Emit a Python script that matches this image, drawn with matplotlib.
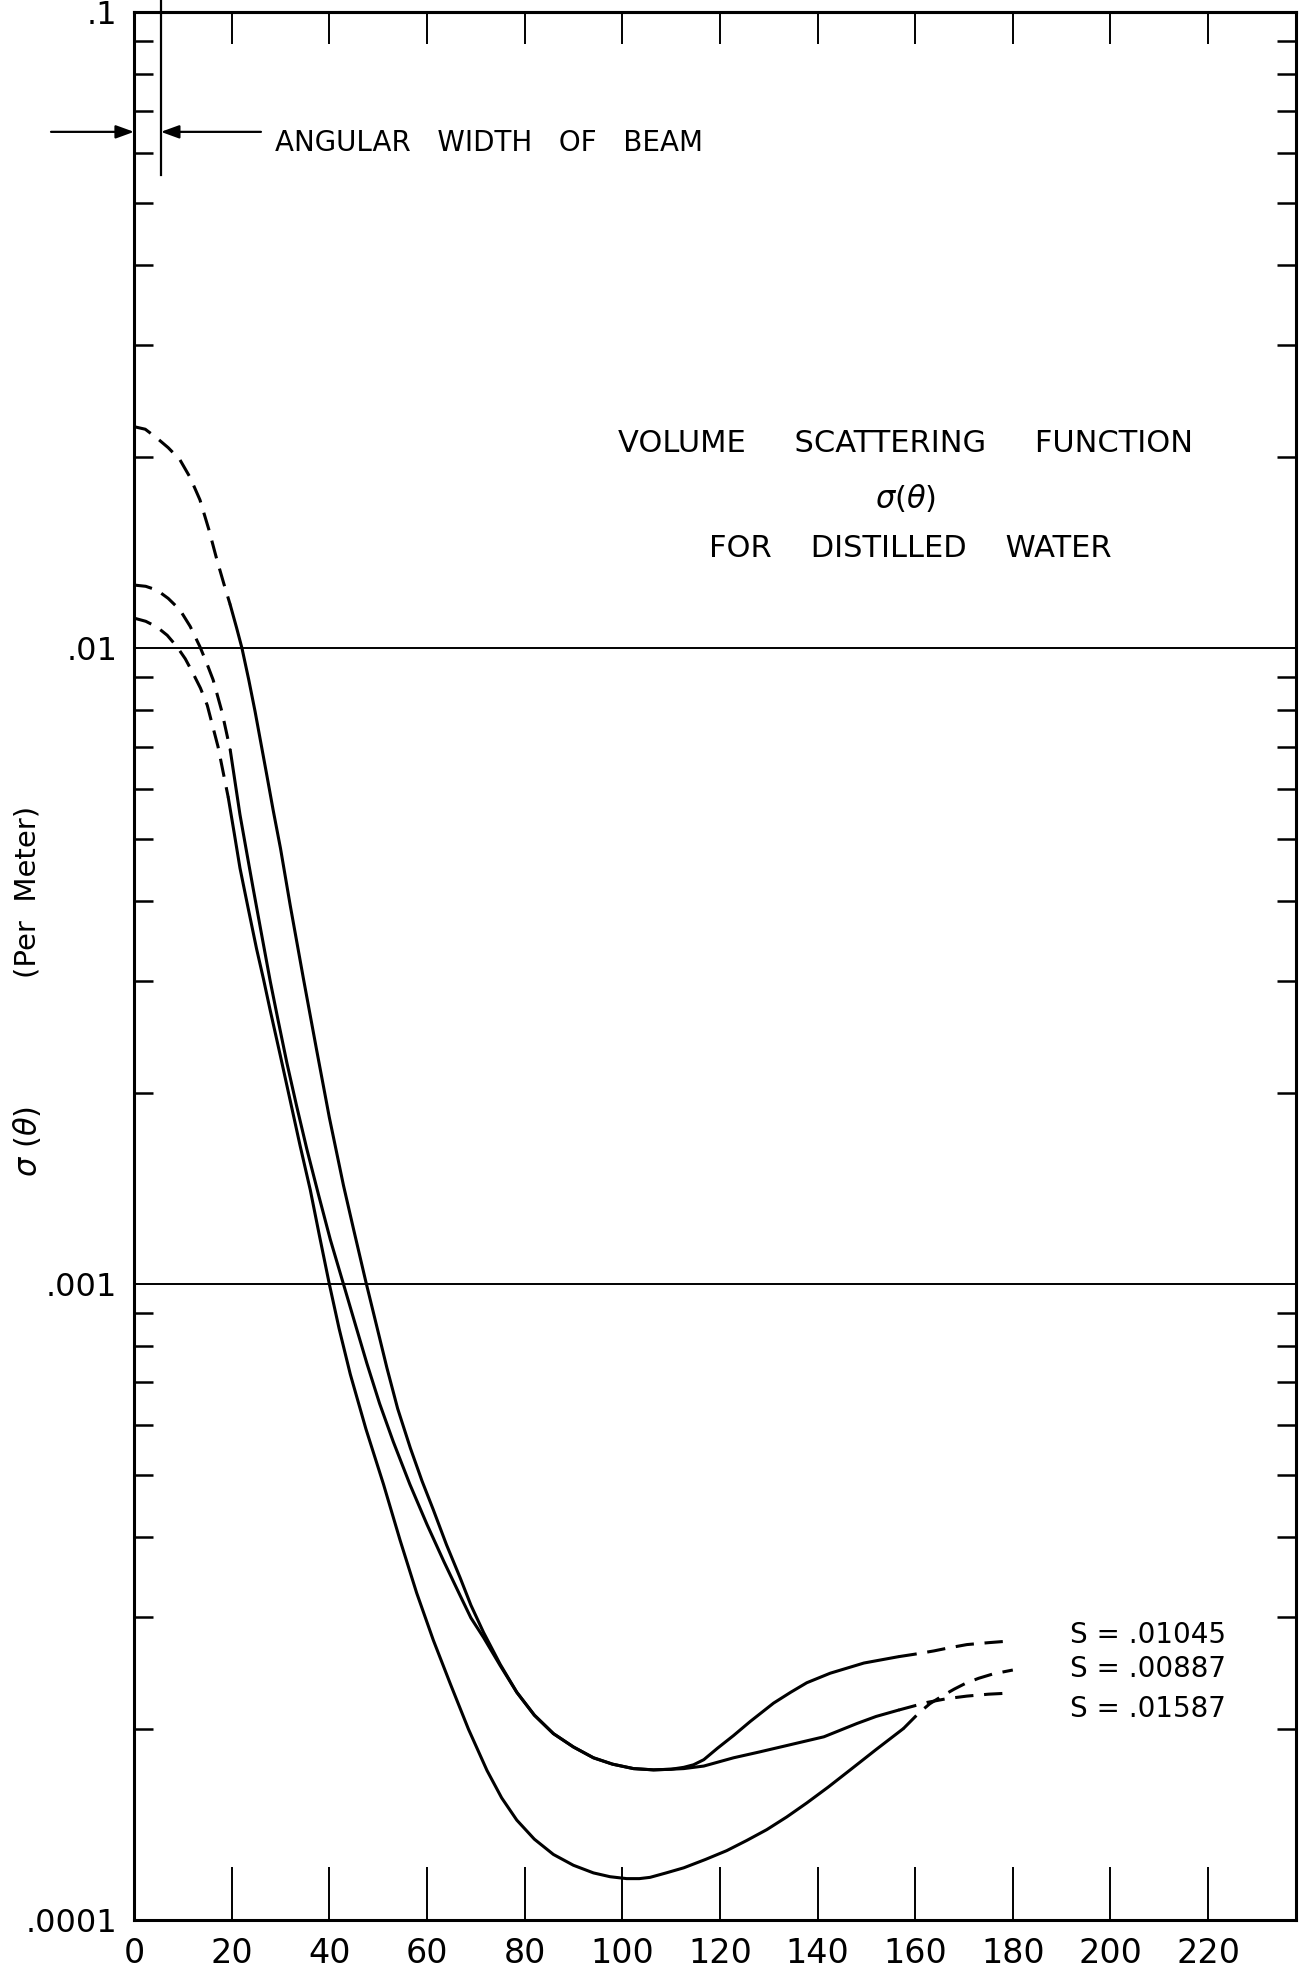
import numpy as np
import matplotlib.pyplot as plt
from matplotlib.ticker import LogLocator, NullFormatter

# Scattering angle (degrees) and log10 of sigma(theta) (per meter).
# Each curve has a dashed start, a solid middle and a dashed tail.

# S = .01045 (upper curve)
theta_a_head = [0, 2.3, 4.7, 7.0, 9.4, 11.5, 13.5, 15.3, 17.0, 18.4, 19.7]
logs_a_head = [-1.652, -1.656, -1.670, -1.685, -1.704, -1.732, -1.767, -1.813, -1.862, -1.899, -1.932]
theta_a = [19.7, 21.0, 22.1, 23.5, 24.8, 26.0, 27.2, 28.5, 30.0, 32.0, 34.7, 37.4, 40.0,
           42.9, 45.0, 47.5, 49.7, 51.8, 54.0, 56.6, 59.0, 61.3, 64.0, 66.8, 69.0, 71.6,
           75.0, 78.4, 82.0, 85.9, 90.0, 94.1, 98.0, 102.3, 106.4, 110.0, 112.6, 114.6,
           116.7, 119.5, 122.8, 126.2, 131.0, 134.5, 137.8, 142.6, 149.5, 156.6]
logs_a = [-1.932, -1.968, -2.000, -2.050, -2.100, -2.150, -2.200, -2.255, -2.315, -2.405,
          -2.520, -2.632, -2.738, -2.845, -2.915, -2.997, -3.066, -3.132, -3.196, -3.258,
          -3.310, -3.355, -3.410, -3.462, -3.505, -3.548, -3.598, -3.642, -3.678, -3.707,
          -3.728, -3.745, -3.755, -3.762, -3.764, -3.763, -3.760, -3.756, -3.748, -3.730,
          -3.710, -3.688, -3.659, -3.642, -3.627, -3.612, -3.596, -3.586]
theta_a_tail = [156.6, 160.0, 163.8, 167.0, 170.6, 175.0, 180.0]
logs_a_tail = [-3.586, -3.582, -3.577, -3.572, -3.567, -3.564, -3.561]

# S = .00887 (curve with the lowest minimum)
theta_b_head = [0, 2.4, 4.7, 6.8, 8.8, 10.5, 12.1, 13.6, 15.0, 17.2, 19.3]
logs_b_head = [-1.953, -1.958, -1.967, -1.980, -1.998, -2.017, -2.040, -2.063, -2.090, -2.155, -2.235]
theta_b = [19.3, 20.5, 21.7, 23.4, 25.1, 26.5, 27.9, 30.0, 32.0, 34.0, 36.1, 38.0, 40.0,
           42.0, 44.3, 47.5, 51.1, 54.5, 57.9, 61.3, 64.8, 68.5, 72.3, 75.3, 78.4, 82.0,
           85.9, 90.0, 94.1, 97.5, 100.9, 103.5, 105.7, 109.0, 112.6, 117.0, 121.4, 125.5,
           129.6, 133.7, 137.8, 142.2, 146.7, 152.0, 157.6]
logs_b = [-2.235, -2.290, -2.346, -2.410, -2.473, -2.520, -2.570, -2.642, -2.712, -2.782,
          -2.852, -2.925, -3.000, -3.070, -3.142, -3.228, -3.315, -3.403, -3.486, -3.560,
          -3.629, -3.700, -3.765, -3.808, -3.843, -3.873, -3.897, -3.914, -3.926, -3.932,
          -3.935, -3.935, -3.933, -3.926, -3.918, -3.905, -3.891, -3.875, -3.858, -3.838,
          -3.816, -3.791, -3.764, -3.732, -3.699]
theta_b_tail = [157.6, 160.7, 163.0, 165.5, 168.0, 170.3, 173.0, 176.0, 180.0]
logs_b_tail = [-3.699, -3.675, -3.660, -3.648, -3.637, -3.628, -3.620, -3.613, -3.607]

# S = .01587 (middle curve)
theta_c_head = [0, 2.4, 4.7, 7.0, 9.4, 11.5, 13.5, 14.9, 16.2, 18.0, 19.7]
logs_c_head = [-1.901, -1.903, -1.909, -1.922, -1.940, -1.966, -1.998, -2.024, -2.050, -2.100, -2.160]
theta_c = [19.7, 21.7, 23.0, 24.4, 26.0, 27.9, 29.5, 31.3, 33.3, 35.4, 37.8, 40.2, 43.2,
           45.5, 47.7, 50.3, 53.1, 56.5, 60.0, 63.5, 66.8, 69.0, 71.6, 75.0, 78.4, 82.0,
           85.9, 90.0, 94.1, 98.0, 102.3, 106.4, 110.0, 112.6, 116.7, 122.8, 128.0, 133.0,
           141.3, 148.1, 152.0, 156.6]
logs_c = [-2.160, -2.262, -2.318, -2.378, -2.445, -2.524, -2.585, -2.652, -2.720, -2.788,
          -2.860, -2.930, -3.008, -3.068, -3.125, -3.188, -3.248, -3.315, -3.378, -3.437,
          -3.490, -3.525, -3.556, -3.600, -3.642, -3.678, -3.707, -3.728, -3.745, -3.755,
          -3.762, -3.764, -3.763, -3.762, -3.758, -3.745, -3.736, -3.727, -3.712, -3.691,
          -3.680, -3.670]
theta_c_tail = [156.6, 159.5, 162.4, 166.5, 170.6, 175.0, 180.0]
logs_c_tail = [-3.670, -3.664, -3.658, -3.652, -3.648, -3.645, -3.643]

s_labels = ['S = .01045', 'S = .00887', 'S = .01587']

x_ticks = [0, 20, 40, 60, 80, 100, 120, 140, 160, 180, 200, 220]
x_tick_labels = [str(t) for t in x_ticks]
y_ticks = [1e-4, 1e-3, 1e-2, 1e-1]
y_tick_labels = ['.0001', '.001', '.01', '.1']

# angular width of the beam
beam_theta = 5.5

fig = plt.figure(figsize=(13.05, 19.7), dpi=100)
ax = fig.add_axes([0.1027, 0.0254, 0.8904, 0.9685])
ax.set_yscale('log')
ax.set_xlim(0, 238)
ax.set_ylim(1e-4, 0.1)

lw = 2.2
dash = (0, (6, 3.5))
solid_parts = [(theta_a, logs_a), (theta_b, logs_b), (theta_c, logs_c)]
dashed_parts = [(theta_a_head, logs_a_head), (theta_b_head, logs_b_head),
                (theta_c_head, logs_c_head), (theta_a_tail, logs_a_tail),
                (theta_b_tail, logs_b_tail), (theta_c_tail, logs_c_tail)]
for th, lg in solid_parts:
    ax.plot(th, 10 ** np.array(lg), color='black', lw=lw,
            solid_joinstyle='round', solid_capstyle='round')
for th, lg in dashed_parts:
    ax.plot(th, 10 ** np.array(lg), color='black', lw=lw, linestyle=dash,
            dash_joinstyle='round', clip_on=False)

# horizontal rules at each decade
ax.axhline(1e-2, color='black', lw=1.4)
ax.axhline(1e-3, color='black', lw=1.4)

# axes frame and ticks
for sp in ax.spines.values():
    sp.set_linewidth(2.2)
ax.set_xticks(x_ticks, x_tick_labels)
ax.tick_params(axis='x', which='major', direction='in', length=38, width=1.4,
               pad=12, labelsize=24)
ax.set_yticks(y_ticks, y_tick_labels)
ax.tick_params(axis='y', which='major', length=0, pad=12, labelsize=23)
ax.yaxis.set_minor_locator(LogLocator(base=10, subs=range(2, 10)))
ax.yaxis.set_minor_formatter(NullFormatter())
ax.tick_params(axis='y', which='minor', direction='in', length=14, width=1.8,
               left=True, right=True)

top = ax.secondary_xaxis('top')
top.set_xticks(x_ticks[1:])
top.tick_params(direction='in', length=23, width=1.4, labeltop=False)
top.spines['top'].set_linewidth(2.2)

# beam width marker
ax.plot([beam_theta, beam_theta], [0.0555, 0.104], color='black', lw=1.6, clip_on=False)
arrow = dict(arrowstyle='-|>,head_length=1.1,head_width=0.4', color='black', lw=1.6,
             shrinkA=0, shrinkB=0)
ax.annotate('', xy=(0, 0.0648), xytext=(-17, 0.0648), arrowprops=arrow,
            annotation_clip=False)
ax.annotate('', xy=(beam_theta, 0.0648), xytext=(26, 0.0648), arrowprops=arrow,
            annotation_clip=False)
ax.text(28.9, 0.0622, 'ANGULAR   WIDTH   OF   BEAM', fontsize=20, ha='left', va='center')

# title block
ax.text(158, 0.0210, 'VOLUME     SCATTERING     FUNCTION', fontsize=22, ha='center', va='center')
ax.text(158, 0.0172, r'$\sigma(\theta)$', fontsize=22, ha='center', va='center')
ax.text(159, 0.01435, 'FOR    DISTILLED    WATER', fontsize=22, ha='center', va='center')

# curve labels
for lab, y in zip(s_labels, [2.81e-4, 2.48e-4, 2.15e-4]):
    ax.text(191.8, y, lab, fontsize=20, ha='left', va='center')

# y axis label
ax.text(-0.092, 0.5388, '(Per  Meter)', transform=ax.transAxes, rotation=90,
        fontsize=21, ha='center', va='center')
ax.text(-0.092, 0.4078, r'$\sigma\ (\theta)$', transform=ax.transAxes, rotation=90,
        fontsize=22, ha='center', va='center')

plt.savefig('out.png', dpi=100)
